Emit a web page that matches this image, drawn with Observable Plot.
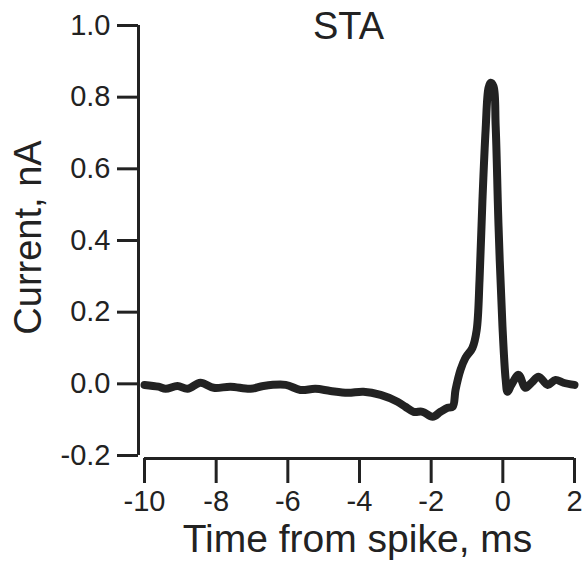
<!DOCTYPE html>
<html>
<head>
<meta charset="utf-8">
<script src="https://cdn.jsdelivr.net/npm/d3@7"></script>
<script src="https://cdn.jsdelivr.net/npm/@observablehq/plot@0.6"></script>
<style>
  html, body { margin: 0; padding: 0; background: #fff; }
</style>
</head>
<body>
<div id="chart"></div>
<script>
// Time from spike (ms)
const times = [-10, -9.61, -9.41, -9.08, -8.80, -8.44, -8.07, -7.60, -7.04, -6.68, -6.06, -5.65, -5.23, -4.81, -4.33, -3.89, -3.41, -2.94, -2.72, -2.49, -2.24, -1.96, -1.74, -1.54, -1.40, -1.32, -1.18, -1.04, -0.85, -0.73, -0.65, -0.57, -0.48, -0.40, -0.34, -0.26, -0.20, -0.12, -0.01, 0.08, 0.13, 0.24, 0.44, 0.63, 0.80, 1.00, 1.25, 1.47, 1.69, 2.0];
// Spike-triggered average current (nA)
const currents = [-0.003, -0.008, -0.014, -0.006, -0.014, 0.003, -0.011, -0.008, -0.014, -0.006, -0.003, -0.017, -0.014, -0.020, -0.025, -0.022, -0.031, -0.050, -0.064, -0.078, -0.078, -0.092, -0.078, -0.067, -0.064, -0.017, 0.039, 0.073, 0.10, 0.15, 0.29, 0.51, 0.71, 0.826, 0.84, 0.83, 0.72, 0.44, 0.16, 0.011, -0.022, -0.003, 0.025, -0.011, 0.003, 0.020, -0.003, 0.011, 0.003, -0.003];
const xTicks = [-10, -8, -6, -4, -2, 0, 2];
const yTicks = [-0.2, 0.0, 0.2, 0.4, 0.6, 0.8, 1.0];
const title = "STA";
const xLabel = "Time from spike, ms";
const yLabel = "Current, nA";

const data = times.map((t, i) => ({t, v: currents[i]}));
const ink = "#222";

const chart = Plot.plot({
  width: 583,
  height: 563,
  marginLeft: 144,
  marginRight: 9,
  marginTop: 25,
  marginBottom: 108,
  style: {fontFamily: "'Liberation Sans', Arial, sans-serif", fontSize: "29px", color: ink, background: "#fff"},
  x: {domain: [-10, 2]},
  y: {domain: [-0.2, 1.0]},
  marks: [
    Plot.axisY({ticks: yTicks, tickSize: 21, tickPadding: 7, dx: -6, strokeWidth: 3, tickFormat: d => d.toFixed(1), fontSize: 29, label: null, stroke: ink, fill: ink}),
    Plot.ruleX([-10], {y1: -0.2, y2: 1.0, dx: -6, stroke: ink, strokeWidth: 3}),
    Plot.axisX({ticks: xTicks, tickSize: 25, tickPadding: 7, dy: 3, strokeWidth: 3, tickFormat: d => String(d), fontSize: 29, label: null, stroke: ink, fill: ink}),
    Plot.ruleY([-0.2], {x1: -10, x2: 2, dy: 3, stroke: ink, strokeWidth: 3}),
    Plot.line(data, {x: "t", y: "v", stroke: ink, strokeWidth: 8, strokeLinejoin: "round", strokeLinecap: "round", curve: "catmull-rom"}),
    Plot.text([title], {text: d => d, frameAnchor: "top", lineAnchor: "middle", textAnchor: "middle", dx: -11, dy: 1.5, fontSize: 38, fill: ink}),
    Plot.text([xLabel], {text: d => d, frameAnchor: "bottom", lineAnchor: "middle", textAnchor: "middle", dx: -2, dy: 84, fontSize: 39, fill: ink}),
    Plot.text([yLabel], {text: d => d, frameAnchor: "left", lineAnchor: "middle", textAnchor: "middle", rotate: -90, dx: -115.5, dy: -3, fontSize: 38, fill: ink})
  ]
});
document.getElementById("chart").appendChild(chart);
</script>
</body>
</html>
